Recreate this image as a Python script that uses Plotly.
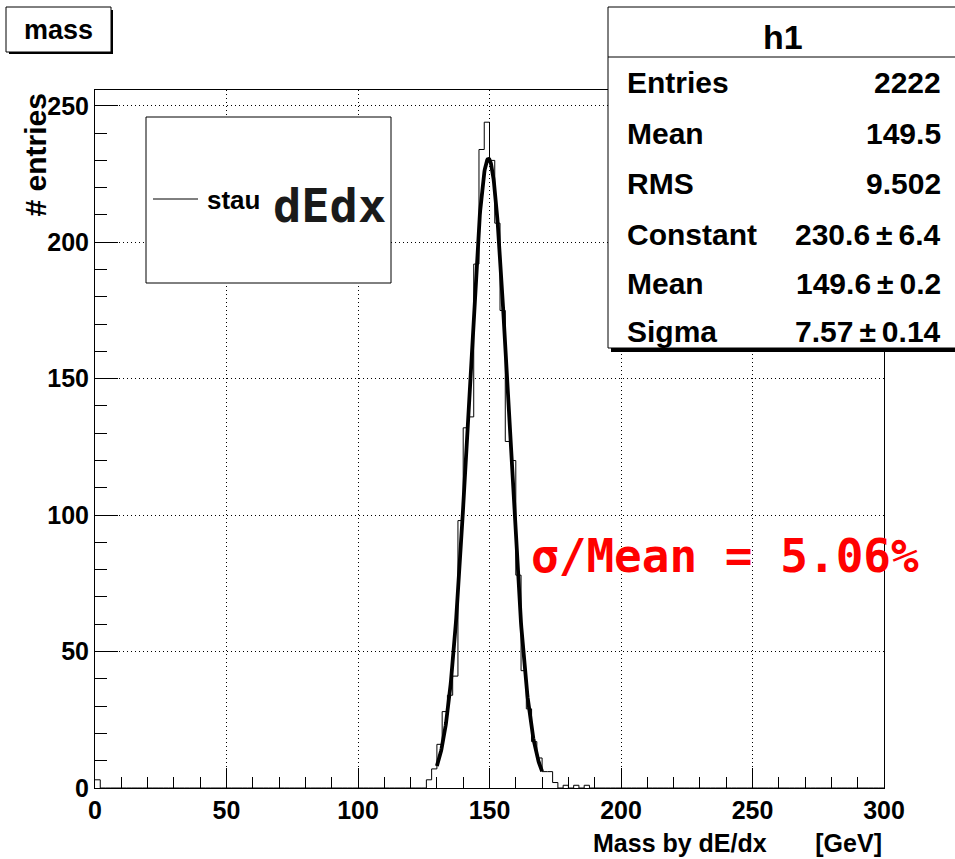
import numpy as np
import plotly.graph_objects as go

# ---------------- data ----------------
BIN_WIDTH = 2
X_MIN, X_MAX = 0, 300
# low edges of the non-empty 2 GeV bins and their contents
bin_low = [0, 126, 128, 130, 132, 134, 136, 138, 140, 142, 144, 146, 148,
           150, 152, 154, 156, 158, 160, 162, 164, 166, 168, 170, 172, 174,
           178, 182, 186]
counts = [3, 3, 7, 16, 28, 34, 41, 98, 132, 136, 192, 234, 244,
          230, 207, 175, 127, 120, 78, 43, 29, 17, 11, 6, 6, 2,
          1, 1, 1]

# gaussian fit parameters (from the stats box)
fit_const = 230.6
fit_mean = 149.6
fit_sigma = 7.57
fit_range = [130, 170]

stats_title = "h1"
stats_labels = ["Entries", "Mean", "RMS", "Constant", "Mean", "Sigma"]
stats_values = ["2222", "149.5", "9.502",
                "230.6\u2009\u00b1\u20096.4",
                "149.6\u2009\u00b1\u20090.2",
                "7.57\u2009\u00b1\u20090.14"]

x_ticks = [0, 50, 100, 150, 200, 250, 300]
y_ticks = [0, 50, 100, 150, 200, 250]
Y_MAX = 255.8

hist_name = "mass"
legend_label = "stau"
legend_big = "dEdx"
ratio_text = "\u03c3/Mean = 5.06%"
x_title = "Mass by dE/dx\u00a0\u00a0\u00a0\u00a0\u00a0\u00a0\u00a0[GeV]"
y_title = "# entries"

# ---------------- build arrays ----------------
nb = (X_MAX - X_MIN) // BIN_WIDTH
h = np.zeros(nb)
for lo, c in zip(bin_low, counts):
    h[(lo - X_MIN) // BIN_WIDTH] = c
edges = np.arange(X_MIN, X_MAX + BIN_WIDTH, BIN_WIDTH)
step_y = list(h) + [h[-1]]

xf = np.linspace(fit_range[0], fit_range[1], 300)
yf = fit_const * np.exp(-0.5 * ((xf - fit_mean) / fit_sigma) ** 2)

# ---------------- geometry helpers ----------------
W, H = 955, 859
L, R, T, B = 95, 884, 90, 788


def xp(px):
    return (px - L) / (R - L)


def yp(py):
    return (B - py) / (B - T)


FONT = "Liberation Sans"
MONO = "DejaVu Sans Mono"

fig = go.Figure()
fig.add_trace(go.Scatter(x=edges, y=step_y, mode="lines",
                         line=dict(color="black", width=1, shape="hv"),
                         showlegend=False, hoverinfo="skip"))
fig.add_trace(go.Scatter(x=xf, y=yf, mode="lines",
                         line=dict(color="black", width=3.8),
                         showlegend=False, hoverinfo="skip"))

axis_common = dict(showline=True, linecolor="black", linewidth=1,
                   mirror=True, ticks="inside", tickcolor="black",
                   showgrid=True, gridcolor="black", gridwidth=1,
                   griddash="1px,3px", zeroline=False,
                   tickfont=dict(family=FONT, size=25, color="black",
                                 weight="bold"))

fig.update_xaxes(range=[X_MIN, X_MAX], tickvals=x_ticks, ticklen=20,
                 minor=dict(dtick=10, ticklen=11, ticks="inside",
                            tickcolor="black", showgrid=False),
                 **axis_common)
fig.update_yaxes(range=[0, Y_MAX], tickvals=y_ticks, ticklen=23,
                 minor=dict(dtick=10, ticklen=12, ticks="inside",
                            tickcolor="black", showgrid=False),
                 **axis_common)

shapes = []
annotations = []

# "mass" title box with shadow
shapes.append(dict(type="rect", xref="paper", yref="paper",
                   x0=xp(9), x1=xp(113), y0=yp(54), y1=yp(10),
                   fillcolor="black", line=dict(width=0), layer="above"))
shapes.append(dict(type="rect", xref="paper", yref="paper",
                   x0=xp(6), x1=xp(111), y0=yp(52), y1=yp(7),
                   fillcolor="white", line=dict(color="black", width=1),
                   layer="above"))
annotations.append(dict(xref="paper", yref="paper", x=xp(58), y=yp(30),
                        text=hist_name, showarrow=False,
                        xanchor="center", yanchor="middle",
                        font=dict(family=FONT, size=27, color="black",
                                  weight="bold")))

# stats box with shadow
shapes.append(dict(type="rect", xref="paper", yref="paper",
                   x0=xp(611), x1=xp(960), y0=yp(352), y1=yp(10),
                   fillcolor="black", line=dict(width=0), layer="above"))
shapes.append(dict(type="rect", xref="paper", yref="paper",
                   x0=xp(608), x1=xp(960), y0=yp(348), y1=yp(7),
                   fillcolor="white", line=dict(color="black", width=1),
                   layer="above"))
shapes.append(dict(type="line", xref="paper", yref="paper",
                   x0=xp(608), x1=xp(960), y0=yp(57), y1=yp(57),
                   line=dict(color="black", width=1), layer="above"))
annotations.append(dict(xref="paper", yref="paper", x=xp(783), y=yp(37),
                        text=stats_title, showarrow=False,
                        xanchor="center", yanchor="middle",
                        font=dict(family=FONT, size=34, color="black",
                                  weight="bold")))
row_y = [83, 133, 184, 234, 283, 331]
for lab, val, ry in zip(stats_labels, stats_values, row_y):
    annotations.append(dict(xref="paper", yref="paper", x=xp(625), y=yp(ry),
                            text=lab, showarrow=False,
                            xanchor="left", yanchor="middle",
                            font=dict(family=FONT, size=30, color="black",
                                      weight="bold")))
    annotations.append(dict(xref="paper", yref="paper", x=xp(943), y=yp(ry),
                            text=val, showarrow=False,
                            xanchor="right", yanchor="middle",
                            font=dict(family=FONT, size=30, color="black",
                                      weight="bold")))

# legend box
shapes.append(dict(type="rect", xref="paper", yref="paper",
                   x0=xp(146), x1=xp(391), y0=yp(283), y1=yp(117),
                   fillcolor="white", line=dict(color="black", width=1),
                   layer="above"))
shapes.append(dict(type="line", xref="paper", yref="paper",
                   x0=xp(153), x1=xp(198), y0=yp(199), y1=yp(199),
                   line=dict(color="black", width=1), layer="above"))
annotations.append(dict(xref="paper", yref="paper", x=xp(205), y=yp(200),
                        text=legend_label, showarrow=False,
                        xanchor="left", yanchor="middle",
                        font=dict(family=FONT, size=26, color="black",
                                  weight="bold")))
annotations.append(dict(xref="paper", yref="paper", x=xp(271), y=yp(205),
                        text=legend_big, showarrow=False,
                        xanchor="left", yanchor="middle",
                        font=dict(family=MONO, size=47, color="#1a1a1a",
                                  weight="bold")))

# red ratio text
annotations.append(dict(xref="paper", yref="paper", x=xp(725), y=yp(556),
                        text=ratio_text, showarrow=False,
                        xanchor="center", yanchor="middle",
                        font=dict(family=MONO, size=46, color="#ff0000",
                                  weight="bold")))

# axis titles
annotations.append(dict(xref="paper", yref="paper", x=xp(884), y=yp(843),
                        text=x_title, showarrow=False,
                        xanchor="right", yanchor="middle",
                        font=dict(family=FONT, size=25, color="black",
                                  weight="bold")))
annotations.append(dict(xref="paper", yref="paper", x=xp(35), y=yp(92),
                        text=y_title, showarrow=False, textangle=-90,
                        xanchor="center", yanchor="top",
                        font=dict(family=FONT, size=30, color="black",
                                  weight="bold")))

fig.update_layout(width=W, height=H,
                  margin=dict(l=L, r=W - R, t=T, b=H - B, pad=0),
                  paper_bgcolor="white", plot_bgcolor="white",
                  shapes=shapes, annotations=annotations,
                  showlegend=False)

fig.write_html("out.html")
